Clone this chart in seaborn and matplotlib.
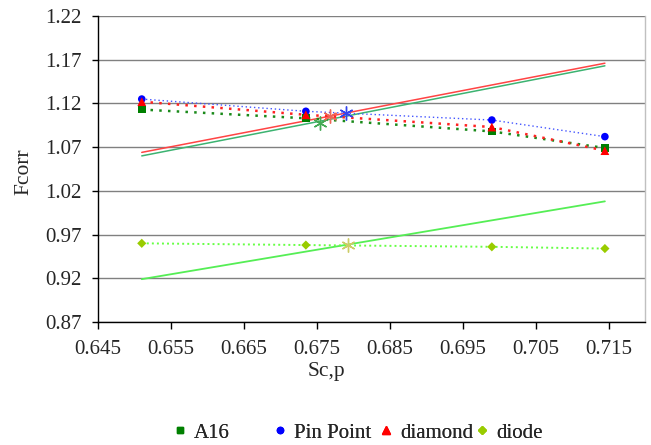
import matplotlib
matplotlib.use("Agg")
import matplotlib.pyplot as plt
from matplotlib.lines import Line2D
import seaborn as sns
import pandas as pd

# ---- data ----
sc_p = [0.651, 0.6735, 0.699, 0.7145]
a16 = [1.113, 1.103, 1.088, 1.069]
pin_point = [1.125, 1.111, 1.101, 1.082]
diamond = [1.122, 1.107, 1.093, 1.066]
diode = [0.960, 0.958, 0.956, 0.954]

fit_x = [0.651, 0.7145]
fit_a16 = [1.060, 1.163]
fit_diamond = [1.064, 1.166]
fit_diode = [0.919, 1.008]

star_x = [0.6755, 0.6768, 0.6790, 0.6793]
star_y = [1.098, 1.106, 1.109, 0.958]
star_colors = ["#44aa55", "#ee6655", "#3344ee", "#cccc66"]

xticks = [0.645, 0.655, 0.665, 0.675, 0.685, 0.695, 0.705, 0.715]
yticks = [0.87, 0.92, 0.97, 1.02, 1.07, 1.12, 1.17, 1.22]
series_labels = ["A16", "Pin Point", "diamond", "diode"]

sns.set_style("white")
plt.rcParams["font.family"] = ["Liberation Serif", "DejaVu Serif"]

fig = plt.figure(figsize=(6.51, 4.45), dpi=100)
ax = fig.add_axes([98 / 651, 1 - 322 / 445, (645 - 98) / 651, (322 - 16) / 445])

for yv in yticks:
    ax.axhline(yv, color="#808080", lw=1.0, zorder=0)

# fitted solid lines
fits = pd.DataFrame({"x": fit_x, "a16": fit_a16, "diamond": fit_diamond, "diode": fit_diode})
sns.lineplot(data=fits, x="x", y="a16", ax=ax, color="#3cb371", lw=1.1, zorder=2)
sns.lineplot(data=fits, x="x", y="diamond", ax=ax, color="#ff4444", lw=1.1, zorder=2)
sns.lineplot(data=fits, x="x", y="diode", ax=ax, color="#55ee55", lw=1.3, zorder=2)

df = pd.DataFrame({"x": sc_p, "A16": a16, "Pin Point": pin_point,
                   "diamond": diamond, "diode": diode})

sns.lineplot(data=df, x="x", y="Pin Point", ax=ax, color="#4455ff", lw=1.0,
             linestyle=(0, (1, 2)), zorder=3)
sns.lineplot(data=df, x="x", y="A16", ax=ax, color="#1a8a1a", lw=1.8,
             linestyle=(0, (1, 2.5)), zorder=3)
sns.lineplot(data=df, x="x", y="diamond", ax=ax, color="#ff2222", lw=1.8,
             linestyle=(0, (1, 2.5)), zorder=3)
sns.lineplot(data=df, x="x", y="diode", ax=ax, color="#66ff44", lw=1.4,
             linestyle=(0, (1, 1.6)), zorder=3)

sns.scatterplot(data=df, x="x", y="A16", ax=ax, marker="s", color="#008000", s=30,
                edgecolor="none", zorder=5)
sns.scatterplot(data=df, x="x", y="Pin Point", ax=ax, marker="o", color="#0000ff", s=30,
                edgecolor="none", zorder=5)
sns.scatterplot(data=df, x="x", y="diamond", ax=ax, marker="^", color="#ff0000", s=40,
                edgecolor="none", zorder=6)
sns.scatterplot(data=df, x="x", y="diode", ax=ax, marker="D", color="#99cc00", s=22,
                edgecolor="none", zorder=5)

stars = pd.DataFrame({"x": star_x, "y": star_y, "c": star_colors})
for _, r in stars.iterrows():
    ax.plot(r["x"], r["y"], marker=(6, 2, 0), ms=10, color=r["c"], mew=1.0, zorder=7)

ax.set_xlim(0.645, 0.72)
ax.set_ylim(0.87, 1.22)
ax.set_xticks(xticks)
ax.set_xticklabels([f"{v:.3f}" for v in xticks])
ax.set_yticks(yticks)
ax.set_yticklabels([f"{v:.2f}" for v in yticks])
ax.tick_params(axis="both", which="major", direction="out", width=1,
               color="black", labelsize=15, left=True, bottom=True)
ax.tick_params(axis="x", length=5, pad=8)
ax.tick_params(axis="y", length=4.5, pad=7)

for s in ["left", "bottom"]:
    ax.spines[s].set_color("black")
    ax.spines[s].set_linewidth(1.0)
ax.spines["top"].set_visible(False)
ax.spines["right"].set_color("#c0c0c0")
ax.spines["right"].set_linewidth(1.0)

ax.set_xlabel("Sc,p", fontsize=15.5)
ax.xaxis.set_label_coords((326 - 98) / 547, -0.13)
ax.set_ylabel("Fcorr", fontsize=15.5)
ax.yaxis.set_label_coords(-0.118, 0.49)

markers = [("s", "#008000", 4.5), ("o", "#0000ff", 4.5), ("^", "#ff0000", 5.5), ("D", "#99cc00", 3.8)]
marker_px = [180, 280, 386, 482]
for (m, c, ms), lab, mx in zip(markers, series_labels, marker_px):
    h = Line2D([], [], marker=m, color=c, ls="none", ms=ms)
    leg = fig.legend([h], [lab], loc="center left",
                     bbox_to_anchor=((mx - 8) / 651, 1 - 433 / 445),
                     frameon=False, fontsize=15, handletextpad=0.25,
                     handlelength=0.8, borderpad=0, borderaxespad=0)
    fig.add_artist(leg)

fig.savefig("out.png", dpi=100)
